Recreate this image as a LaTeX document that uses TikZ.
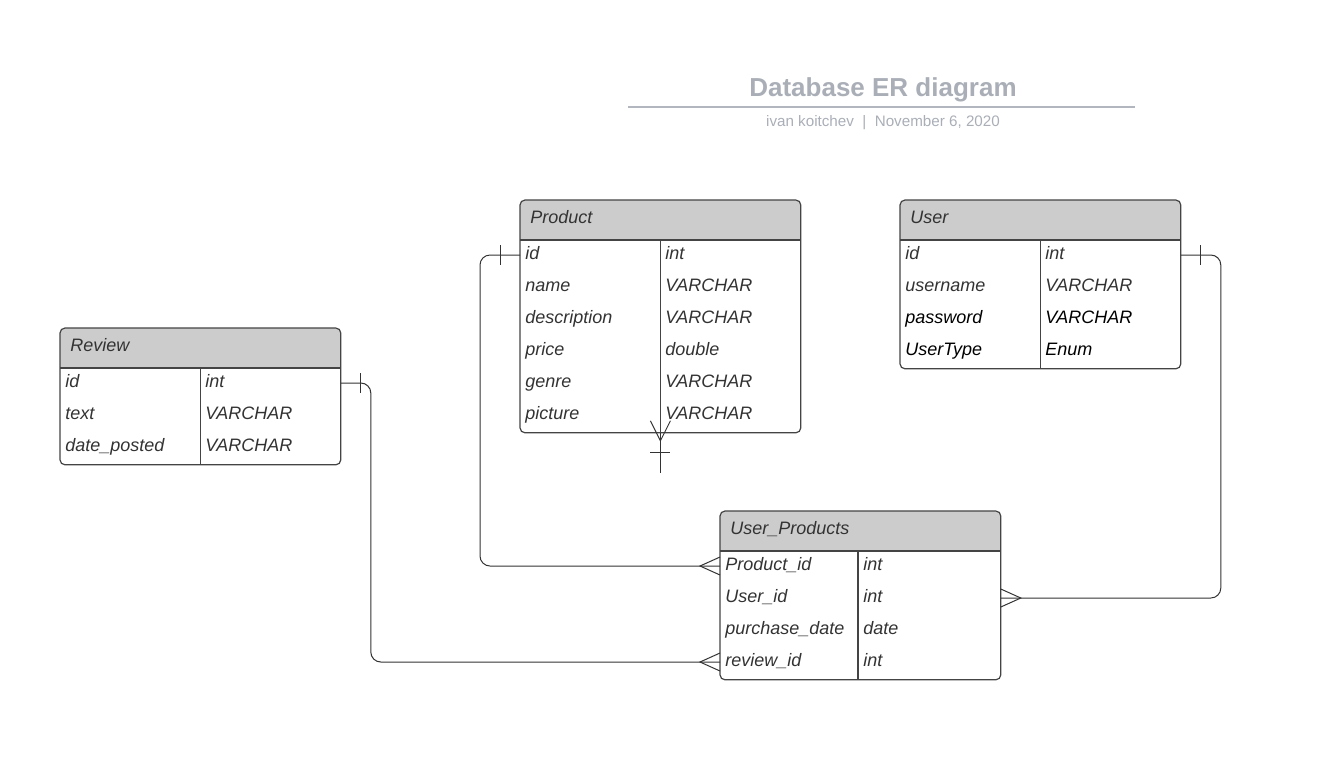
\documentclass[tikz,border=0pt]{standalone}
\usepackage{fontspec}
\setmainfont{Liberation Sans}
\definecolor{txt}{HTML}{333333}
\definecolor{bordc}{HTML}{444444}
\definecolor{linec}{HTML}{333333}
\definecolor{hdrc}{HTML}{CCCCCC}
\definecolor{titlec}{HTML}{A9AEB7}
\definecolor{rulec}{HTML}{B2B6BE}
\begin{document}
\begin{tikzpicture}[x=0.5pt,y=-0.5pt,
  tbl/.style={fill=white, inner sep=0pt, anchor=north west, minimum width=140pt},
  tblborder/.style={draw=bordc, line width=0.6pt, rounded corners=2.5pt},
  tblline/.style={draw=bordc, line width=0.6pt},
  cell/.style={anchor=west, inner xsep=2.5pt, inner ysep=0pt, text height=6.5pt, text depth=2.5pt,
    font=\fontsize{9}{10}\selectfont\itshape, text=txt},
  blk/.style={text=black},
  hdrtxt/.style={cell, inner xsep=5pt},
  conn/.style={draw=linec, line width=0.5pt, rounded corners=5pt},
  foot/.style={draw=linec, line width=0.5pt},
]
\useasboundingbox (0,0) rectangle (1334,773);

% ---- title ----
\node[text=titlec, font=\fontsize{13}{15}\selectfont\bfseries] (title) at (883,90) {Database ER diagram};
\draw[rulec, line width=1pt] (628,107) -- (1135,107);
\node[text=titlec, font=\fontsize{7.6}{9}\selectfont] (subtitle) at (883,123) {ivan koitchev\ \ |\ \ November 6, 2020};

% ---- Product ----
\node[tbl, minimum height=116pt] (product) at (520,200) {};
\begin{scope}
  \clip[rounded corners=2.5pt] (product.north west) rectangle (product.south east);
  \fill[hdrc] (product.north west) rectangle ([yshift=-20pt]product.north east);
\end{scope}
\draw[tblborder] (product.north west) rectangle (product.south east);
\draw[tblline] ([yshift=-20pt]product.north west) -- ([yshift=-20pt]product.north east);
\draw[tblline] ([yshift=-20pt]product.north) -- (product.south);
\node[hdrtxt] (p-h) at (520,219) {Product};
\node[cell] (p-id) at (520,255) {id};          \node[cell] (p-id-t) at (660,255) {int};
\node[cell] (p-name) at (520,287) {name};      \node[cell] (p-name-t) at (660,287) {VARCHAR};
\node[cell] (p-desc) at (520,319) {description}; \node[cell] (p-desc-t) at (660,319) {VARCHAR};
\node[cell] (p-price) at (520,351) {price};    \node[cell] (p-price-t) at (660,351) {double};
\node[cell] (p-genre) at (520,383) {genre};    \node[cell] (p-genre-t) at (660,383) {VARCHAR};
\node[cell] (p-pic) at (520,415) {picture};    \node[cell] (p-pic-t) at (660,415) {VARCHAR};

% ---- User ----
\node[tbl, minimum height=84pt] (user) at (900,200) {};
\begin{scope}
  \clip[rounded corners=2.5pt] (user.north west) rectangle (user.south east);
  \fill[hdrc] (user.north west) rectangle ([yshift=-20pt]user.north east);
\end{scope}
\draw[tblborder] (user.north west) rectangle (user.south east);
\draw[tblline] ([yshift=-20pt]user.north west) -- ([yshift=-20pt]user.north east);
\draw[tblline] ([yshift=-20pt]user.north) -- (user.south);
\node[hdrtxt] (u-h) at (900,219) {User};
\node[cell] (u-id) at (900,255) {id};            \node[cell] (u-id-t) at (1040,255) {int};
\node[cell] (u-name) at (900,287) {username};    \node[cell] (u-name-t) at (1040,287) {VARCHAR};
\node[cell,blk] (u-pw) at (900,319) {password};  \node[cell,blk] (u-pw-t) at (1040,319) {VARCHAR};
\node[cell,blk] (u-type) at (900,351) {UserType}; \node[cell,blk] (u-type-t) at (1040,351) {Enum};

% ---- Review ----
\node[tbl, minimum height=68pt] (review) at (60,328) {};
\begin{scope}
  \clip[rounded corners=2.5pt] (review.north west) rectangle (review.south east);
  \fill[hdrc] (review.north west) rectangle ([yshift=-20pt]review.north east);
\end{scope}
\draw[tblborder] (review.north west) rectangle (review.south east);
\draw[tblline] ([yshift=-20pt]review.north west) -- ([yshift=-20pt]review.north east);
\draw[tblline] ([yshift=-20pt]review.north) -- (review.south);
\node[hdrtxt] (r-h) at (60,347) {Review};
\node[cell] (r-id) at (60,383) {id};              \node[cell] (r-id-t) at (200,383) {int};
\node[cell] (r-text) at (60,415) {text};          \node[cell] (r-text-t) at (200,415) {VARCHAR};
\node[cell] (r-date) at (60,447) {date\_posted};  \node[cell] (r-date-t) at (200,447) {VARCHAR};

% ---- User_Products ----
\node[tbl, minimum height=84pt] (up) at (720,511) {};
\begin{scope}
  \clip[rounded corners=2.5pt] (up.north west) rectangle (up.south east);
  \fill[hdrc] (up.north west) rectangle ([yshift=-20pt]up.north east);
\end{scope}
\draw[tblborder] (up.north west) rectangle (up.south east);
\draw[tblline] ([yshift=-20pt]up.north west) -- ([yshift=-20pt]up.north east);
\draw[tblline] (858,551) -- (858,679);
\node[hdrtxt] (up-h) at (720,530) {User\_Products};
\node[cell] (up-pid) at (720,566) {Product\_id};        \node[cell] (up-pid-t) at (858,566) {int};
\node[cell] (up-uid) at (720,598) {User\_id};           \node[cell] (up-uid-t) at (858,598) {int};
\node[cell] (up-date) at (720,630) {purchase\_date};    \node[cell] (up-date-t) at (858,630) {date};
\node[cell] (up-rid) at (720,662) {review\_id};         \node[cell] (up-rid-t) at (858,662) {int};

% ---- connectors ----
% Product.id -> User_Products.Product_id
\draw[conn] (p-id.west) -- ++(-40,0) |- (up-pid.west);
\draw[foot] ([xshift=-10pt,yshift=5pt]p-id.west) -- ([xshift=-10pt,yshift=-5pt]p-id.west);
\draw[foot] ([yshift=4.5pt]up-pid.west) -- ([xshift=-10pt]up-pid.west) -- ([yshift=-4.5pt]up-pid.west);

% User.id -> User_Products.User_id
\coordinate (u-id-r) at (user.east |- u-id);
\coordinate (up-uid-r) at (up.east |- up-uid);
\draw[conn] (u-id-r) -- ++(40,0) |- (up-uid-r);
\draw[foot] ([xshift=10pt,yshift=5pt]u-id-r) -- ([xshift=10pt,yshift=-5pt]u-id-r);
\draw[foot] ([yshift=4.5pt]up-uid-r) -- ([xshift=10pt]up-uid-r) -- ([yshift=-4.5pt]up-uid-r);

% Review.id -> User_Products.review_id
\coordinate (r-id-r) at (review.east |- r-id);
\draw[conn] (r-id-r) -- ++(30,0) |- (up-rid.west);
\draw[foot] ([xshift=10pt,yshift=5pt]r-id-r) -- ([xshift=10pt,yshift=-5pt]r-id-r);
\draw[foot] ([yshift=4.5pt]up-rid.west) -- ([xshift=-10pt]up-rid.west) -- ([yshift=-4.5pt]up-rid.west);

% dangling connector below Product
\coordinate (p-end) at ([yshift=-20pt]product.south);
\draw[foot] (product.south) -- (p-end);
\draw[foot] ([xshift=-5pt,yshift=6pt]product.south) -- ([yshift=-4pt]product.south) -- ([xshift=5pt,yshift=6pt]product.south);
\draw[foot] ([xshift=-5pt,yshift=-10pt]product.south) -- ([xshift=5pt,yshift=-10pt]product.south);
\end{tikzpicture}
\end{document}
